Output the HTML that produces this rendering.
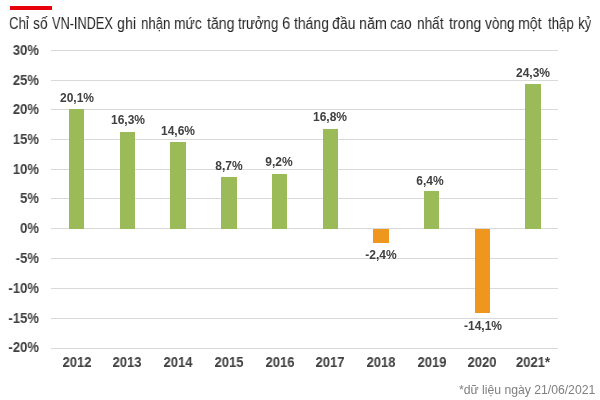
<!DOCTYPE html>
<html><head><meta charset="utf-8"><style>
html,body{margin:0;padding:0;background:#fff;}
body{width:600px;height:400px;position:relative;overflow:hidden;font-family:"Liberation Sans",sans-serif;}
.a{position:absolute;will-change:transform;white-space:nowrap;}
.g{position:absolute;height:1px;background:#d9d9d9;}
.yl{position:absolute;will-change:transform;transform:scaleX(0.935);transform-origin:right center;font-weight:bold;font-size:14px;color:#404040;text-align:right;width:40px;line-height:14px;}
.xl{position:absolute;will-change:transform;transform:scaleX(0.935);font-weight:bold;font-size:14px;color:#404040;text-align:center;width:60px;line-height:14px;}
.vl{position:absolute;will-change:transform;font-weight:bold;font-size:12px;color:#404040;text-align:center;width:60px;line-height:14px;}
.bar{position:absolute;}
.t{position:absolute;will-change:transform;top:15px;font-size:16px;line-height:18px;color:#262626;transform:scaleX(0.86);transform-origin:0 0;white-space:nowrap;}
</style></head><body>
<div class="a" style="left:10px;top:6px;width:42px;height:4px;background:#e8000c"></div>
<div class="t" style="left:9.17px;transform:scaleX(0.826)">Chỉ</div>
<div class="t" style="left:33.13px;transform:scaleX(0.867)">số</div>
<div class="t" style="left:52.00px;transform:scaleX(0.796)">VN-INDEX</div>
<div class="t" style="left:117.11px;transform:scaleX(0.895)">ghi</div>
<div class="t" style="left:140.68px;transform:scaleX(0.824)">nhận</div>
<div class="t" style="left:174.13px;transform:scaleX(0.867)">mức</div>
<div class="t" style="left:206.50px;transform:scaleX(0.883)">tăng</div>
<div class="t" style="left:238.00px;transform:scaleX(0.823)">trưởng</div>
<div class="t" style="left:281.57px;transform:scaleX(0.929)">6</div>
<div class="t" style="left:294.00px;transform:scaleX(0.872)">tháng</div>
<div class="t" style="left:332.12px;transform:scaleX(0.880)">đầu</div>
<div class="t" style="left:359.10px;transform:scaleX(0.897)">năm</div>
<div class="t" style="left:390.17px;transform:scaleX(0.833)">cao</div>
<div class="t" style="left:416.65px;transform:scaleX(0.850)">nhất</div>
<div class="t" style="left:448.50px;transform:scaleX(0.886)">trong</div>
<div class="t" style="left:484.50px;transform:scaleX(0.853)">vòng</div>
<div class="t" style="left:518.12px;transform:scaleX(0.885)">một</div>
<div class="t" style="left:547.50px;transform:scaleX(0.823)">thập</div>
<div class="t" style="left:577.67px;transform:scaleX(0.833)">kỷ</div>
<div class="g" style="left:51px;top:50px;width:507px"></div>
<div class="yl" style="left:-1px;top:43.2px">30%</div>
<div class="g" style="left:51px;top:80px;width:507px"></div>
<div class="yl" style="left:-1px;top:73.2px">25%</div>
<div class="g" style="left:51px;top:109px;width:507px"></div>
<div class="yl" style="left:-1px;top:102.2px">20%</div>
<div class="g" style="left:51px;top:139px;width:507px"></div>
<div class="yl" style="left:-1px;top:132.2px">15%</div>
<div class="g" style="left:51px;top:169px;width:507px"></div>
<div class="yl" style="left:-1px;top:162.2px">10%</div>
<div class="g" style="left:51px;top:198px;width:507px"></div>
<div class="yl" style="left:-1px;top:191.2px">5%</div>
<div class="g" style="left:51px;top:228px;width:507px"></div>
<div class="yl" style="left:-1px;top:221.2px">0%</div>
<div class="g" style="left:51px;top:258px;width:507px"></div>
<div class="yl" style="left:-1px;top:251.2px">-5%</div>
<div class="g" style="left:51px;top:288px;width:507px"></div>
<div class="yl" style="left:-1px;top:281.2px">-10%</div>
<div class="g" style="left:51px;top:318px;width:507px"></div>
<div class="yl" style="left:-1px;top:311.2px">-15%</div>
<div class="g" style="left:51px;top:348px;width:507px"></div>
<div class="yl" style="left:-1px;top:340.2px">-20%</div>
<div class="bar" style="left:68.8px;top:109.3px;width:15.5px;height:119.7px;background:#9bbb59"></div>
<div class="vl" style="left:47.0px;top:91.3px">20,1%</div>
<div class="xl" style="left:46.5px;top:355px">2012</div>
<div class="bar" style="left:119.5px;top:131.9px;width:15.5px;height:97.1px;background:#9bbb59"></div>
<div class="vl" style="left:97.7px;top:113.3px">16,3%</div>
<div class="xl" style="left:97.2px;top:355px">2013</div>
<div class="bar" style="left:170.2px;top:142.1px;width:15.5px;height:86.9px;background:#9bbb59"></div>
<div class="vl" style="left:147.9px;top:124.1px">14,6%</div>
<div class="xl" style="left:148.0px;top:355px">2014</div>
<div class="bar" style="left:221.0px;top:177.2px;width:15.5px;height:51.8px;background:#9bbb59"></div>
<div class="vl" style="left:199.2px;top:159.2px">8,7%</div>
<div class="xl" style="left:198.7px;top:355px">2015</div>
<div class="bar" style="left:271.7px;top:174.2px;width:15.5px;height:54.8px;background:#9bbb59"></div>
<div class="vl" style="left:249.0px;top:155.2px">9,2%</div>
<div class="xl" style="left:249.5px;top:355px">2016</div>
<div class="bar" style="left:322.5px;top:129.0px;width:15.5px;height:100.0px;background:#9bbb59"></div>
<div class="vl" style="left:299.7px;top:110.0px">16,8%</div>
<div class="xl" style="left:300.2px;top:355px">2017</div>
<div class="bar" style="left:373.2px;top:229.0px;width:15.5px;height:14.3px;background:#ef961f"></div>
<div class="vl" style="left:351.4px;top:248.0px">-2,4%</div>
<div class="xl" style="left:350.9px;top:355px">2018</div>
<div class="bar" style="left:423.9px;top:190.9px;width:15.5px;height:38.1px;background:#9bbb59"></div>
<div class="vl" style="left:400.2px;top:173.9px">6,4%</div>
<div class="xl" style="left:401.7px;top:355px">2019</div>
<div class="bar" style="left:474.7px;top:229.0px;width:15.5px;height:84.0px;background:#ef961f"></div>
<div class="vl" style="left:452.9px;top:319.0px">-14,1%</div>
<div class="xl" style="left:452.4px;top:355px">2020</div>
<div class="bar" style="left:525.4px;top:84.3px;width:15.5px;height:144.7px;background:#9bbb59"></div>
<div class="vl" style="left:503.1px;top:66.3px">24,3%</div>
<div class="xl" style="left:503.2px;top:355px">2021*</div>
<div class="a" style="left:459px;top:383.3px;font-size:12.2px;line-height:15px;color:#7f7f7f;">*dữ liệu ngày 21/06/2021</div>
</body></html>
